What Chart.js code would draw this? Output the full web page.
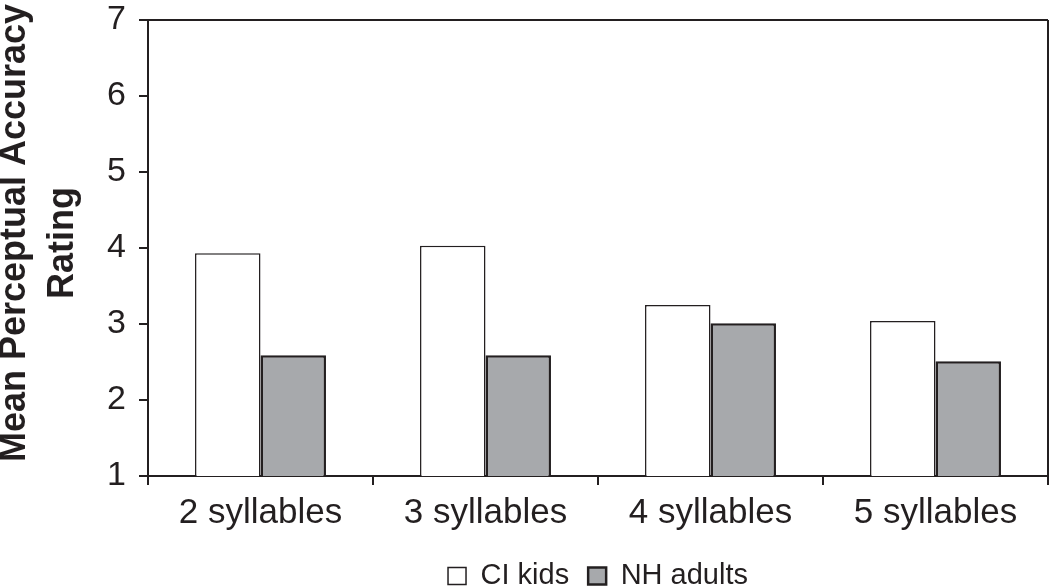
<!DOCTYPE html>
<html lang="en">
<head>
  <meta charset="UTF-8" />
  <title>Mean Perceptual Accuracy Rating</title>
  <script src="https://cdn.jsdelivr.net/npm/chart.js"></script>
  <style>
    html, body { margin: 0; padding: 0; background: #fff; }
    #wrap { width: 1050px; height: 586px; position: relative; }
  </style>
</head>
<body>
  <div id="wrap">
    <canvas id="ratingChart"></canvas>
  </div>

  <script>
    // data
    const categories = ['2 syllables', '3 syllables', '4 syllables', '5 syllables'];
    const ciKids = [3.93, 4.03, 3.25, 3.04];
    const nhAdults = [2.59, 2.59, 3.01, 2.51];
    const yTicks = [1, 2, 3, 4, 5, 6, 7];

    const ink = '#231f20';
    const font = "'Liberation Sans', Arial, sans-serif";

    const ctx = document.getElementById('ratingChart').getContext('2d');
    const ratingChart = new Chart(ctx, {
      type: 'bar',
      data: {
        labels: categories,
        datasets: [
          {
            label: 'CI kids',
            data: ciKids,
            backgroundColor: '#ffffff',
            borderColor: ink,
            borderWidth: 1.5
          },
          {
            label: 'NH adults',
            data: nhAdults,
            backgroundColor: '#a7a9ac',
            borderColor: ink,
            borderWidth: 2.5
          }
        ]
      },
      options: {
        responsive: true,
        maintainAspectRatio: false,
        animation: false,
        categoryPercentage: 0.582,
        barPercentage: 1,
        layout: {
          padding: { top: 20, right: 2, bottom: -14.5, left: 0 }
        },
        plugins: {
          tooltip: { enabled: false },
          legend: {
            position: 'bottom',
            fullSize: false,
            labels: {
              boxWidth: 18,
              boxHeight: 17,
              padding: 19,
              color: ink,
              font: { family: font, size: 29 }
            }
          }
        },
        scales: {
          x: {
            afterFit: (scale) => { scale.height = 66.5; },
            border: { display: true, color: ink, width: 2 },
            grid: {
              offset: true,
              drawOnChartArea: true,
              // only the right edge line is drawn inside the plot
              color: (c) => c.type === 'tick' ? 'rgba(0,0,0,0)' : ink,
              lineWidth: 2,
              tickColor: ink,
              tickWidth: 2,
              tickLength: 9
            },
            ticks: {
              color: ink,
              padding: 7,
              font: { family: font, size: 35 }
            }
          },
          y: {
            min: yTicks[0],
            max: yTicks[yTicks.length - 1],
            afterFit: (scale) => {
              scale.width = 148;
              scale.paddingTop = 0;
              scale.paddingBottom = 0;
            },
            afterBuildTicks: (scale) => {
              scale.ticks = yTicks.map(v => ({ value: v }));
            },
            border: { display: true, color: ink, width: 2 },
            grid: {
              color: (c) => (c.tick && c.tick.value === 7) ? ink : 'rgba(0,0,0,0)',
              lineWidth: 2,
              tickColor: ink,
              tickWidth: 2,
              tickLength: 9
            },
            ticks: {
              color: ink,
              padding: 13,
              font: { family: font, size: 34 }
            },
            title: {
              display: true,
              text: ['   Mean Perceptual Accuracy', ' Rating'],
              color: ink,
              padding: { top: -8.5, bottom: 0 },
              font: { family: font, size: 36, weight: 'bold', lineHeight: 1.33 }
            }
          }
        }
      }
    });
  </script>
</body>
</html>
